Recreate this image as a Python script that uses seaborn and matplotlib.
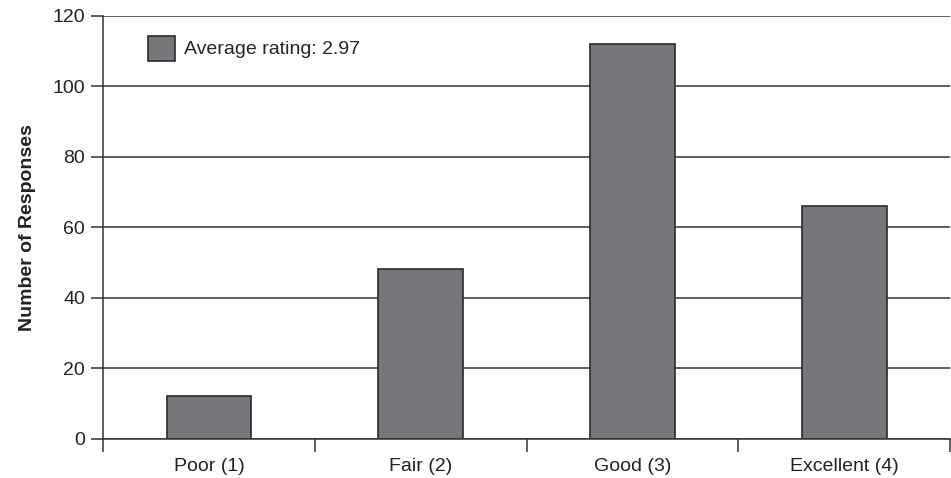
import matplotlib
matplotlib.use("Agg")
import matplotlib.pyplot as plt
import seaborn as sns
import pandas as pd
from matplotlib.patches import Patch
from matplotlib.ticker import FixedLocator

categories = ["Poor (1)", "Fair (2)", "Good (3)", "Excellent (4)"]
responses = [12, 48, 112, 66]
legend_label = "Average rating: 2.97"

df = pd.DataFrame({"rating": categories, "count": responses})

sns.set_theme(style="white")
plt.rcParams["font.family"] = ["Liberation Sans", "DejaVu Sans"]

bar_color = "#76777b"
edge_color = "#2b2b2b"
line_color = "#333333"

fig = plt.figure(figsize=(9.51, 4.78), dpi=100)
ax = fig.add_axes([0.1083, 0.0826, 0.8907, 0.884])

sns.barplot(data=df, x="rating", y="count", color=bar_color, width=0.4,
            edgecolor=edge_color, linewidth=1.2, saturation=1, ax=ax)

ax.set_xlim(-0.5, 3.5)
ax.set_ylim(0, 120)
ax.set_yticks(range(0, 121, 20))
ax.set_axisbelow(True)
ax.yaxis.grid(True, color=line_color, linewidth=1.1)
ax.xaxis.grid(False)

# category labels without marks, separator ticks between categories
ax.tick_params(axis="x", which="major", length=0, labelsize=14, pad=14,
               labelcolor="#222222")
ax.xaxis.set_minor_locator(FixedLocator([-0.5, 0.5, 1.5, 2.5, 3.5]))
ax.tick_params(axis="x", which="minor", length=9, width=1.1, color=line_color,
               direction="out", bottom=True)
ax.tick_params(axis="y", length=9, width=1.1, color=line_color, direction="out",
               left=True, labelsize=14, labelcolor="#222222", pad=4)

for side in ["top", "right"]:
    ax.spines[side].set_visible(False)
for side in ["left", "bottom"]:
    ax.spines[side].set_color(line_color)
    ax.spines[side].set_linewidth(1.1)

ax.set_xlabel("")
ax.set_ylabel("Number of Responses", fontsize=14, fontweight="bold",
              color="#222222", labelpad=12)

handle = Patch(facecolor=bar_color, edgecolor=edge_color, linewidth=1.2)
ax.legend([handle], [legend_label], loc="upper left", frameon=False,
          fontsize=14, handlelength=1.34, handleheight=1.6,
          bbox_to_anchor=(0.033, 0.995), handletextpad=0.5)

fig.savefig("out.png", dpi=100)
